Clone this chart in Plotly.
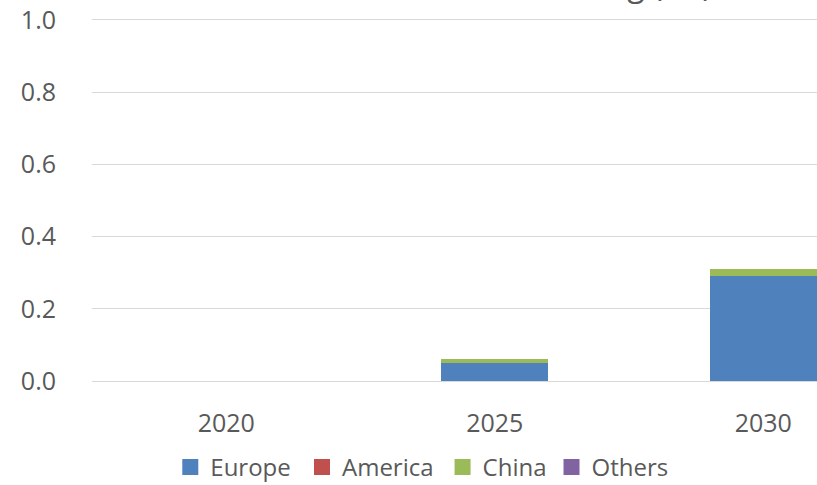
import plotly.graph_objects as go

years = ["2020", "2025", "2030"]
europe = [0.0, 0.05, 0.29]
america = [0.0, 0.0, 0.0]
china = [0.0, 0.01, 0.021]
others = [0.0, 0.0, 0.0]
y_ticks = [0.0, 0.2, 0.4, 0.6, 0.8, 1.0]
y_tick_text = ["0.0", "0.2", "0.4", "0.6", "0.8", "1.0"]
title_text = "Ammonia Trading (Mt)"

series = [
    ("Europe", europe, "#4F81BD"),
    ("America", america, "#C0504D"),
    ("China", china, "#9BBB59"),
    ("Others", others, "#8064A2"),
]
# small spacing tweaks so legend entries sit where the reference has them
legend_pad = {"Europe": "\u00a0", "America": "\u2009", "China": "", "Others": ""}

FONT = "Open Sans"
GREY = "#595959"

fig = go.Figure()
for name, vals, col in series:
    fig.add_trace(go.Bar(x=years, y=vals, name=name, showlegend=False, legendgroup=name,
                         marker=dict(color=col, line=dict(width=0))))
for name, vals, col in series:
    fig.add_trace(go.Scatter(x=[None], y=[None], mode="markers", name=name + legend_pad[name],
                             legendgroup=name,
                             marker=dict(symbol="square", size=16, color=col)))

fig.update_layout(
    width=817, height=485,
    margin=dict(l=92, r=0, t=18, b=104, autoexpand=False),
    barmode="stack", bargap=0.6,
    plot_bgcolor="white", paper_bgcolor="white",
    font=dict(family=FONT, size=25, color=GREY),
    showlegend=True,
    legend=dict(orientation="h", x=0.108, xanchor="left", y=-0.238, yanchor="middle",
                font=dict(family=FONT, size=24, color=GREY), traceorder="normal",
                itemclick=False),
    annotations=[dict(text=title_text, xref="paper", yref="paper", x=0.858, y=1.03,
                      xanchor="right", yanchor="bottom", showarrow=False,
                      font=dict(family=FONT, size=32, color=GREY))],
)
fig.update_xaxes(type="category", range=[-0.5, 2.2], showgrid=False, showline=False,
                 ticks="", ticklabelstandoff=25, tickfont=dict(size=25, color=GREY))
fig.update_yaxes(range=[0, 1.0055], tickvals=y_ticks, ticktext=y_tick_text, showgrid=True,
                 gridcolor="#D9D9D9", gridwidth=1, zeroline=True, zerolinecolor="#D9D9D9",
                 zerolinewidth=1, showline=False, ticks="", ticklabelstandoff=35,
                 tickfont=dict(size=25, color=GREY))

fig.write_html("out.html")
